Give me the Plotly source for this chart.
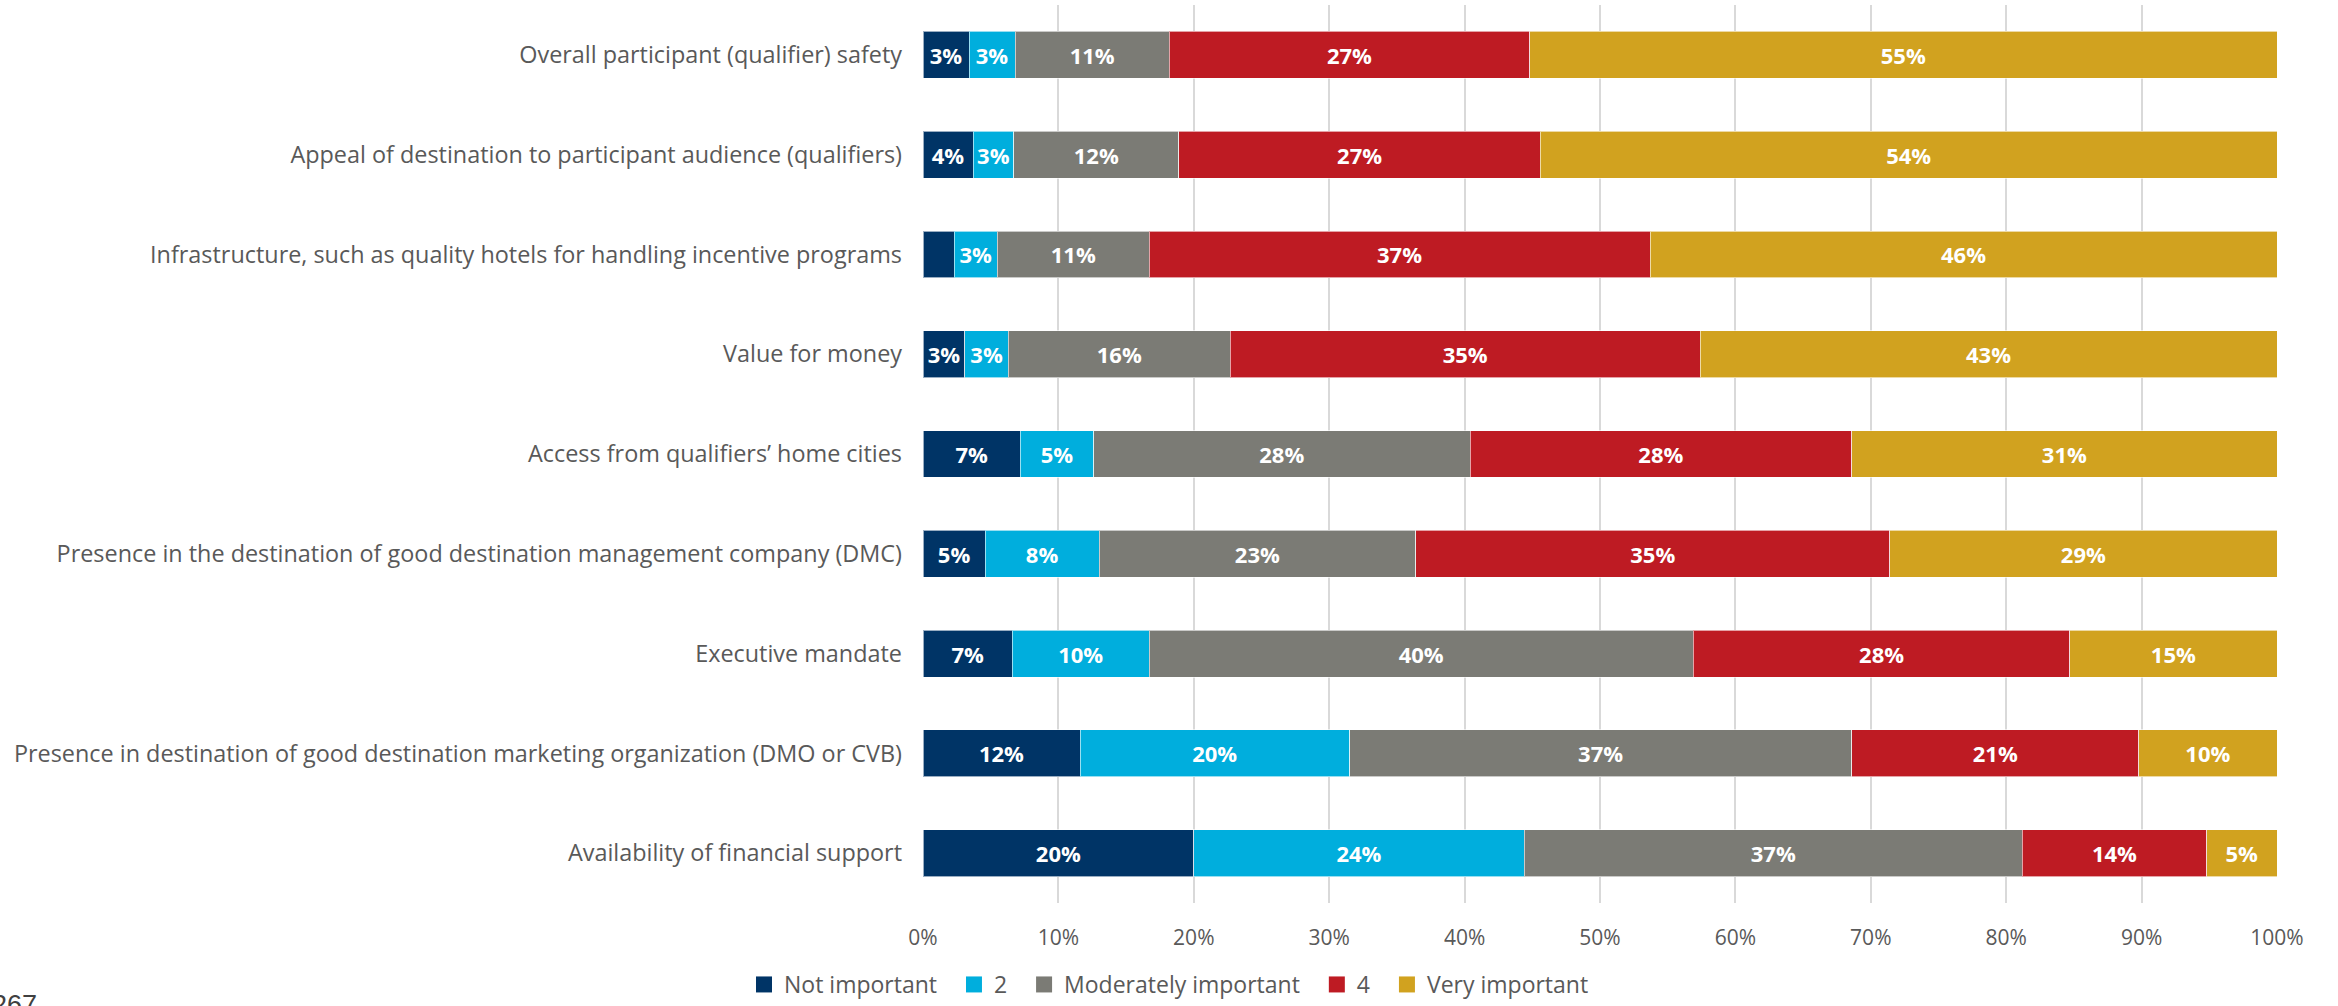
import plotly.graph_objects as go

# Factors rated for choosing an incentive travel destination (top to bottom)
factors = [
    "Overall participant (qualifier) safety",
    "Appeal of destination to participant audience (qualifiers)",
    "Infrastructure, such as quality hotels for handling incentive programs",
    "Value for money",
    "Access from qualifiers\u2019 home cities",
    "Presence in the destination of good destination management company (DMC)",
    "Executive mandate",
    "Presence in destination of good destination marketing organization (DMO or CVB)",
    "Availability of financial support",
]

# Share of respondents (%) per rating
not_important = [3.4, 3.7, 2.3, 3.1, 7.2, 4.6, 6.6, 11.6, 20.0]
rating_2 = [3.4, 3.0, 3.2, 3.2, 5.4, 8.4, 10.1, 19.9, 24.4]
moderately_important = [11.4, 12.2, 11.2, 16.4, 27.8, 23.4, 40.2, 37.1, 36.8]
rating_4 = [26.6, 26.7, 37.0, 34.7, 28.2, 35.0, 27.8, 21.2, 13.6]
very_important = [55.2, 54.4, 46.3, 42.6, 31.4, 28.6, 15.3, 10.2, 5.2]

series_names = ["Not important", "2", "Moderately important", "4", "Very important"]
series_values = [not_important, rating_2, moderately_important, rating_4, very_important]
series_colors = ["#003466", "#00AEDD", "#7B7B75", "#BE1B23", "#D1A21F"]

# segments narrower than this are left unlabeled
MIN_LABEL = 3.0

fig = go.Figure()
for name, vals, color in zip(series_names, series_values, series_colors):
    labels = [f"{v:.0f}%" if v >= MIN_LABEL else "" for v in vals]
    fig.add_trace(go.Bar(
        y=factors,
        x=vals,
        name=name,
        orientation="h",
        showlegend=False,
        marker=dict(color=color, line=dict(color="rgba(255,255,255,0.6)", width=1)),
        text=labels,
        textposition="inside",
        insidetextanchor="middle",
        textangle=0,
        textfont=dict(family="Open Sans", size=22, color="white", weight="bold"),
        cliponaxis=False,
    ))

# legend keys: larger square swatches than the default bar symbol,
# with a little extra room after each entry
for i, (name, color) in enumerate(zip(series_names, series_colors)):
    pad = "\u00a0\u00a0" if i < len(series_names) - 1 else ""
    fig.add_trace(go.Scatter(
        x=[None],
        y=[None],
        mode="markers",
        name=name + pad,
        marker=dict(symbol="square", size=16, color=color),
        hoverinfo="skip",
    ))

fig.update_layout(
    barmode="stack",
    bargap=0.53,
    width=2338,
    height=1006,
    margin=dict(l=923, r=61, t=5, b=103),
    paper_bgcolor="white",
    plot_bgcolor="white",
    font=dict(family="Open Sans", size=21, color="#595959"),
    uniformtext=dict(mode="show", minsize=22),
    xaxis=dict(
        range=[0, 100],
        dtick=10,
        ticksuffix="%",
        showgrid=True,
        gridcolor="#D9D9D9",
        gridwidth=2,
        zeroline=False,
        showline=False,
        ticks="",
        ticklabelstandoff=20,
        tickfont=dict(family="Open Sans", size=21, color="#595959"),
    ),
    yaxis=dict(
        autorange="reversed",
        showgrid=False,
        zeroline=False,
        showline=False,
        ticks="",
        ticklabelstandoff=20,
        tickfont=dict(family="Open Sans", size=23.4, color="#595959"),
    ),
    legend=dict(
        orientation="h",
        xref="container",
        yref="container",
        x=0.5,
        xanchor="center",
        y=-0.011,
        yanchor="bottom",
        font=dict(family="Open Sans", size=23, color="#595959"),
        itemwidth=30,
        traceorder="normal",
    ),
)

# page number in the lower-left corner
fig.add_annotation(
    text="267",
    xref="paper",
    yref="paper",
    x=-0.689,
    y=-0.095,
    xanchor="left",
    yanchor="top",
    showarrow=False,
    font=dict(family="Liberation Sans", size=27, color="#404040"),
)

fig.write_html("out.html")
